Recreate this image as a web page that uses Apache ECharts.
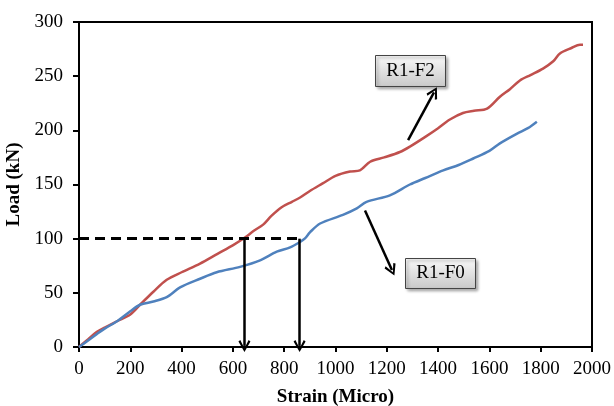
<!DOCTYPE html>
<html>
<head>
<meta charset="utf-8">
<script src="https://cdn.jsdelivr.net/npm/echarts@6/dist/echarts.min.js"></script>
<style>
  html, body { margin: 0; padding: 0; background: #fff; }
  #container { width: 614px; height: 406px; }
</style>
</head>
<body>
<div id="container"></div>
<script>
// R1-F2 (red)
var strainF2 = [0, 30, 70, 100, 150, 200, 238, 290, 342, 400, 472, 540, 601, 647, 680, 718, 750, 790, 830, 862, 900, 950, 1000, 1057, 1095, 1135, 1190, 1251, 1290, 1350, 1400, 1446, 1497, 1540, 1591, 1641, 1680, 1719, 1760, 1809, 1850, 1875, 1920, 1953, 1965];
var loadF2 = [0, 6, 14, 18, 24, 30, 39, 51, 62, 69, 77, 86, 94, 101, 107, 113, 121, 129, 134, 138, 144, 151, 158, 162, 163, 171, 175, 180, 185, 194, 202, 210, 216, 218, 220, 231, 238, 246, 251, 257, 264, 271, 276, 279, 279];
// R1-F0 (blue)
var strainF0 = [0, 30, 70, 100, 150, 200, 238, 290, 342, 394, 472, 537, 628, 706, 771, 823, 862, 880, 901, 940, 1029, 1083, 1121, 1212, 1290, 1350, 1420, 1480, 1537, 1600, 1641, 1708, 1750, 1785];
var loadF0 = [0, 5, 12, 17, 24, 33, 39, 42, 46, 55, 63, 69, 74, 80, 88, 92, 97, 100, 106, 114, 122, 128, 134, 140, 150, 156, 163, 168, 174, 181, 188, 197, 202, 208];

var xTicks = [0, 200, 400, 600, 800, 1000, 1200, 1400, 1600, 1800, 2000];
var yTicks = [0, 50, 100, 150, 200, 250, 300];

function pairs(xs, ys) {
    var out = [];
    for (var i = 0; i < xs.length; i++) out.push([xs[i], ys[i]]);
    return out;
}

var chevron = 'path://M10,0 L20,14 L17,16 L10,5 L3,16 L0,14 Z';
var font = '"Liberation Serif", "Times New Roman", serif';

var dom = document.getElementById("container");
var myChart = echarts.init(dom);
var option = {
    animation: false,
    grid: {
        left: 79, right: 22, top: 22, bottom: 59,
        outerBoundsMode: 'none', containLabel: false,
        show: true, borderColor: '#000', borderWidth: 2
    },
    xAxis: {
        type: 'value', min: xTicks[0], max: xTicks[xTicks.length - 1], interval: 200,
        name: 'Strain (Micro)', nameLocation: 'middle', nameGap: 41,
        nameTextStyle: { fontFamily: font, fontWeight: 'bold', fontSize: 19, color: '#000' },
        axisLine: { lineStyle: { color: '#000', width: 2 } },
        axisTick: { length: 5, lineStyle: { color: '#000', width: 2 } },
        axisLabel: { fontFamily: font, fontSize: 19, color: '#000', margin: 13,
                     formatter: function (v) { return String(v); } },
        splitLine: { show: false }
    },
    yAxis: {
        type: 'value', min: yTicks[0], max: yTicks[yTicks.length - 1], interval: 50,
        name: 'Load (kN)', nameLocation: 'middle', nameGap: 52,
        nameTextStyle: { fontFamily: font, fontWeight: 'bold', fontSize: 19, color: '#000' },
        axisLine: { show: true, lineStyle: { color: '#000', width: 2 } },
        axisTick: { show: true, length: 6, lineStyle: { color: '#000', width: 2 } },
        axisLabel: { fontFamily: font, fontSize: 19, color: '#000', margin: 16 },
        splitLine: { show: false }
    },
    series: [
        {
            name: 'R1-F2', type: 'line', data: pairs(strainF2, loadF2),
            showSymbol: false, smooth: 0.3,
            lineStyle: { color: '#C0504D', width: 2.5 },
            markLine: {
                silent: true, animation: false,
                label: { show: false },
                lineStyle: { color: '#000', width: 2.5, type: 'solid' },
                symbol: ['none', chevron], symbolSize: [12, 12],
                data: [
                    [{ coord: [0, 100], symbol: 'none' },
                     { coord: [872, 100], symbol: 'none', lineStyle: { type: [10, 6], width: 3 } }],
                    [{ coord: [645, 100] }, { coord: [645, 1] }],
                    [{ coord: [860, 100] }, { coord: [860, 1] }],
                    [{ coord: [1283, 191] }, { coord: [1384, 235] }]
                ]
            }
        },
        {
            name: 'R1-F0', type: 'line', data: pairs(strainF0, loadF0),
            showSymbol: false, smooth: 0.3,
            lineStyle: { color: '#4F81BD', width: 2.5 },
            markLine: {
                silent: true, animation: false,
                label: { show: false },
                lineStyle: { color: '#000', width: 2.5, type: 'solid' },
                symbol: ['none', chevron], symbolSize: [12, 12],
                data: [
                    [{ coord: [1115, 126] }, { coord: [1220, 71] }]
                ]
            }
        }
    ],
    graphic: [
        {
            type: 'group', left: 375, top: 55,
            children: [
                { type: 'rect', shape: { x: 0, y: 0, width: 70, height: 31 },
                  style: { fill: new echarts.graphic.LinearGradient(0, 0, 0, 1, [{ offset: 0, color: '#fafafa' }, { offset: 1, color: '#c8c8c8' }]),
                           stroke: '#444', lineWidth: 1, shadowBlur: 3, shadowOffsetX: 2, shadowOffsetY: 2, shadowColor: 'rgba(0,0,0,0.35)' } },
                { type: 'text', style: { x: 35, y: 16, text: 'R1-F2', align: 'center', verticalAlign: 'middle', font: '19px ' + font, fill: '#000' } }
            ]
        },
        {
            type: 'group', left: 405, top: 258,
            children: [
                { type: 'rect', shape: { x: 0, y: 0, width: 70, height: 30 },
                  style: { fill: new echarts.graphic.LinearGradient(0, 0, 0, 1, [{ offset: 0, color: '#fafafa' }, { offset: 1, color: '#c8c8c8' }]),
                           stroke: '#444', lineWidth: 1, shadowBlur: 3, shadowOffsetX: 2, shadowOffsetY: 2, shadowColor: 'rgba(0,0,0,0.35)' } },
                { type: 'text', style: { x: 35, y: 15, text: 'R1-F0', align: 'center', verticalAlign: 'middle', font: '19px ' + font, fill: '#000' } }
            ]
        }
    ]
};
myChart.setOption(option);
</script>
</body>
</html>
